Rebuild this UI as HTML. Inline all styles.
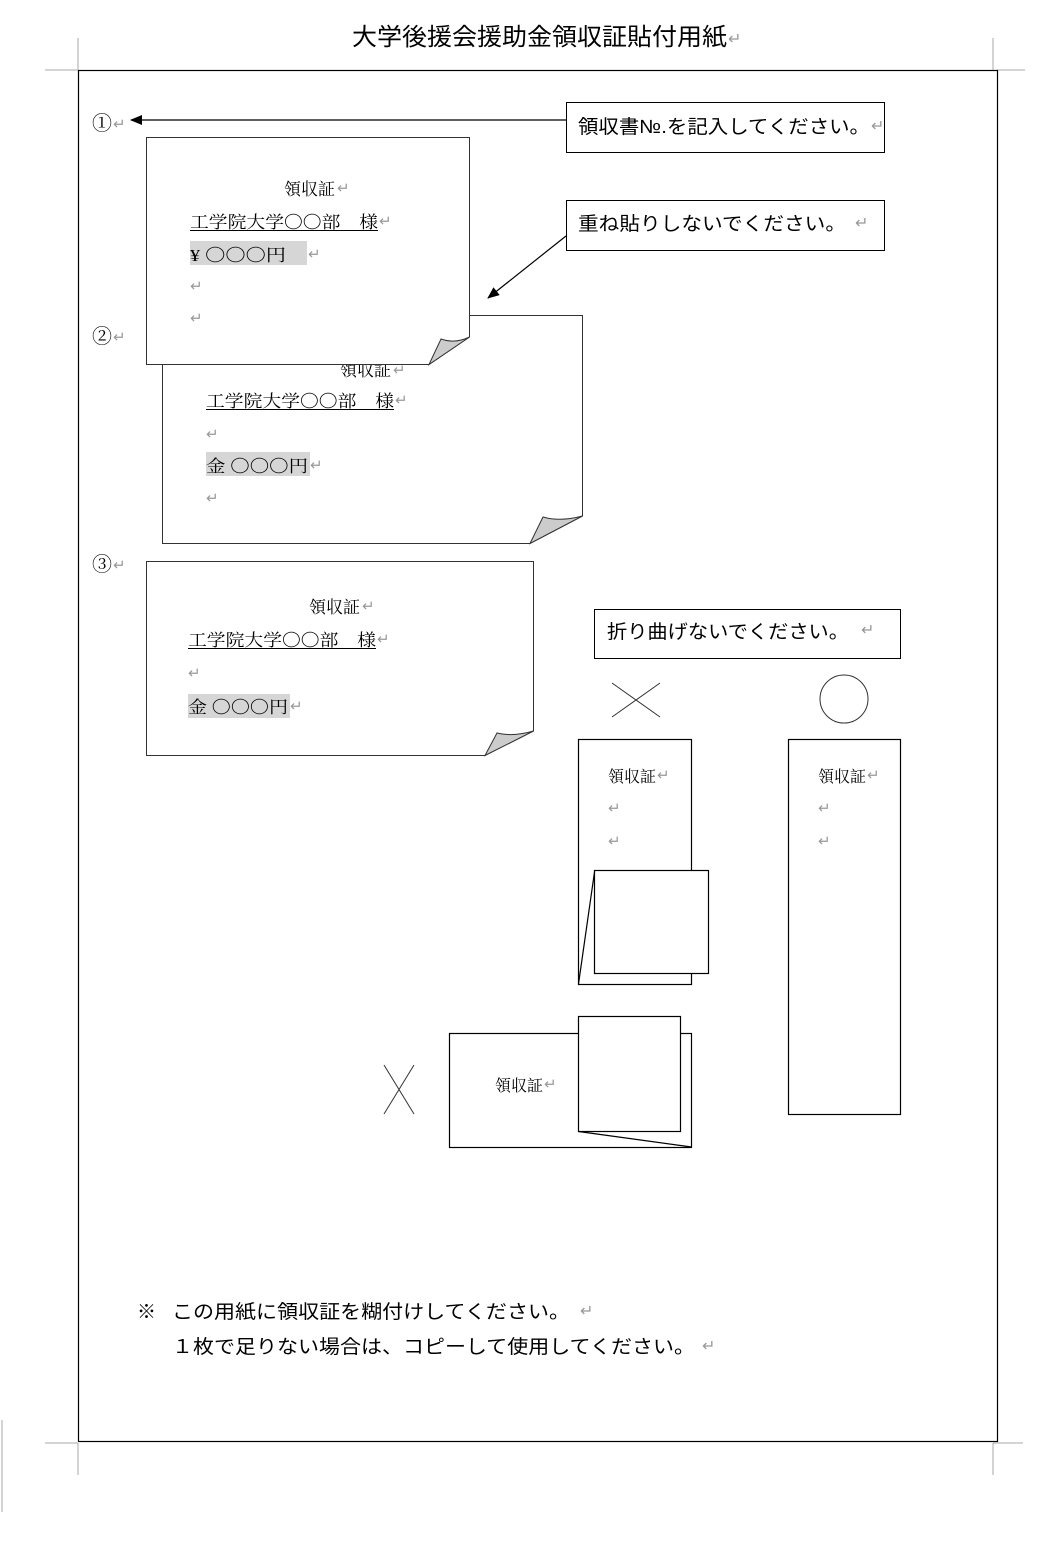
<!DOCTYPE html>
<html><head><meta charset="utf-8"><style>
html,body{margin:0;padding:0;background:#fff;width:1048px;height:1555px;overflow:hidden}
svg{display:block}
.g{font-family:"Liberation Sans","Noto Sans CJK JP",sans-serif;fill:#000}
.m{font-family:"Liberation Serif","Noto Serif CJK SC",serif;fill:#000}
.r{fill:#999}
</style></head><body>
<svg width="1048" height="1555" viewBox="0 0 1048 1555" xmlns="http://www.w3.org/2000/svg">
<defs><marker id="ah" markerWidth="12" markerHeight="10" refX="11" refY="5" orient="auto" markerUnits="userSpaceOnUse"><path d="M0,0 L12,5 L0,10 z" fill="#000"/></marker></defs>
<g stroke="#aaa" stroke-width="1" fill="none">
<path d="M78,38 V70 M45,70 H78 M993,38 V70 M997,70 H1025"/>
<path d="M78,1443 V1475 M45,1443 H78 M993,1443 V1475 M993,1443 H1023"/>
<path d="M2,1420 V1512"/>
</g>
<text x="352" y="45" class="g" font-size="24" textLength="375" lengthAdjust="spacingAndGlyphs">大学後援会援助金領収証貼付用紙</text>
<text x="728" y="44" class="r" font-size="16">↵</text>
<rect x="78.5" y="70.5" width="919" height="1371" fill="none" stroke="#000" stroke-width="1.2"/>

<text x="92" y="130" class="m" font-size="20">①</text><text x="113" y="129" class="r" font-size="15">↵</text>
<text x="92" y="343" class="m" font-size="20">②</text><text x="113" y="342" class="r" font-size="15">↵</text>
<text x="92" y="571" class="m" font-size="20">③</text><text x="113" y="570" class="r" font-size="15">↵</text>

<line x1="566" y1="120" x2="131" y2="120" stroke="#000" stroke-width="1.2" marker-end="url(#ah)"/>
<rect x="566.5" y="102.5" width="318" height="50" fill="#fff" stroke="#000"/>
<text x="578" y="133" class="g" font-size="19" textLength="292" lengthAdjust="spacingAndGlyphs">領収書№.を記入してください。</text>
<text x="871" y="131" class="r" font-size="16">↵</text>
<rect x="566.5" y="200.5" width="318" height="50" fill="#fff" stroke="#000"/>
<text x="578" y="230" class="g" font-size="19" textLength="268" lengthAdjust="spacingAndGlyphs">重ね貼りしないでください。</text>
<text x="855" y="228" class="r" font-size="16">↵</text>
<line x1="566" y1="236" x2="488" y2="298" stroke="#000" stroke-width="1.2" marker-end="url(#ah)"/>

<path d="M162.5,315.5 H582.5 V516 L530,543.5 H162.5 Z" fill="#fff" stroke="#333"/>
<path d="M530,543.5 L543,517 Q560,522 582.5,516 Z" fill="#ccc" stroke="#333"/>
<text x="340" y="376" class="m" font-size="17" fill="#333">領収証</text><text x="393" y="375" class="r" font-size="15">↵</text>
<text x="206" y="407" class="m" font-size="17" textLength="188" lengthAdjust="spacingAndGlyphs">工学院大学〇〇部　様</text>
<line x1="206" y1="409.5" x2="394" y2="409.5" stroke="#000"/>
<text x="395" y="405" class="r" font-size="15">↵</text>
<text x="206" y="439" class="r" font-size="15">↵</text>
<rect x="206" y="452" width="104" height="24" fill="#d6d6d6"/>
<text x="206" y="472" class="m" font-size="17" textLength="102" lengthAdjust="spacingAndGlyphs">金 〇〇〇円</text>
<text x="310" y="470" class="r" font-size="15">↵</text>
<text x="206" y="503" class="r" font-size="15">↵</text>

<path d="M146.5,137.5 H469.5 V337 L429,364.5 H146.5 Z" fill="#fff" stroke="#333"/>
<path d="M429,364.5 L441,339 Q455,344 469.5,337 Z" fill="#ccc" stroke="#333"/>
<text x="284" y="195" class="m" font-size="17">領収証</text><text x="337" y="193" class="r" font-size="15">↵</text>
<text x="190" y="228" class="m" font-size="17" textLength="188" lengthAdjust="spacingAndGlyphs">工学院大学〇〇部　様</text>
<line x1="190" y1="230.5" x2="378" y2="230.5" stroke="#000"/>
<text x="379" y="226" class="r" font-size="15">↵</text>
<rect x="190" y="241" width="117" height="24" fill="#d6d6d6"/>
<text x="190" y="261" class="m" font-size="17" textLength="96" lengthAdjust="spacingAndGlyphs">¥ 〇〇〇円</text>
<text x="308" y="259" class="r" font-size="15">↵</text>
<text x="190" y="291" class="r" font-size="15">↵</text>
<text x="190" y="323" class="r" font-size="15">↵</text>

<path d="M146.5,561.5 H533.5 V731 L485,755.5 H146.5 Z" fill="#fff" stroke="#333"/>
<path d="M485,755.5 L497,733 Q513,737 533.5,731 Z" fill="#ccc" stroke="#333"/>
<text x="309" y="613" class="m" font-size="17">領収証</text><text x="362" y="611" class="r" font-size="15">↵</text>
<text x="188" y="646" class="m" font-size="17" textLength="188" lengthAdjust="spacingAndGlyphs">工学院大学〇〇部　様</text>
<line x1="188" y1="648.5" x2="376" y2="648.5" stroke="#000"/>
<text x="377" y="644" class="r" font-size="15">↵</text>
<text x="188" y="678" class="r" font-size="15">↵</text>
<rect x="188" y="694" width="102" height="24" fill="#d6d6d6"/>
<text x="188" y="713" class="m" font-size="17" textLength="100" lengthAdjust="spacingAndGlyphs">金 〇〇〇円</text>
<text x="290" y="711" class="r" font-size="15">↵</text>

<rect x="594.5" y="609.5" width="306" height="49" fill="#fff" stroke="#000"/>
<text x="607" y="638" class="g" font-size="19" textLength="242" lengthAdjust="spacingAndGlyphs">折り曲げないでください。</text>
<text x="861" y="635" class="r" font-size="16">↵</text>
<g stroke="#333" stroke-width="1" fill="none">
<line x1="612" y1="683" x2="660" y2="717"/><line x1="660" y1="683" x2="612" y2="717"/>
<circle cx="844" cy="699" r="24"/>
<line x1="384" y1="1065" x2="414" y2="1114"/><line x1="414" y1="1065" x2="384" y2="1114"/>
</g>
<g stroke="#000" stroke-width="1.2" fill="#fff">
<rect x="578.5" y="739.5" width="113" height="245"/>
<rect x="788.5" y="739.5" width="112" height="375"/>
<rect x="449.5" y="1033.5" width="242" height="114"/>
</g>
<text x="608" y="782" class="m" font-size="16">領収証</text><text x="657" y="780" class="r" font-size="15">↵</text>
<text x="608" y="813" class="r" font-size="15">↵</text><text x="608" y="846" class="r" font-size="15">↵</text>
<text x="818" y="782" class="m" font-size="16">領収証</text><text x="867" y="780" class="r" font-size="15">↵</text>
<text x="818" y="813" class="r" font-size="15">↵</text><text x="818" y="846" class="r" font-size="15">↵</text>
<text x="495" y="1091" class="m" font-size="16">領収証</text><text x="544" y="1089" class="r" font-size="15">↵</text>
<g stroke="#000" stroke-width="1.2" fill="#fff">
<rect x="594.5" y="870.5" width="114" height="103"/>
<line x1="594.5" y1="872" x2="578.5" y2="984"/>
<rect x="578.5" y="1016.5" width="102" height="115"/>
<line x1="578.5" y1="1131.5" x2="691.5" y2="1147"/>
</g>

<text x="137" y="1318" class="g" font-size="19">※</text>
<text x="172" y="1318" class="g" font-size="19" textLength="398" lengthAdjust="spacingAndGlyphs">この用紙に領収証を糊付けしてください。</text>
<text x="580" y="1316" class="r" font-size="16">↵</text>
<text x="172" y="1353" class="g" font-size="19" textLength="523" lengthAdjust="spacingAndGlyphs">１枚で足りない場合は、コピーして使用してください。</text>
<text x="702" y="1351" class="r" font-size="16">↵</text>
</svg>
</body></html>
